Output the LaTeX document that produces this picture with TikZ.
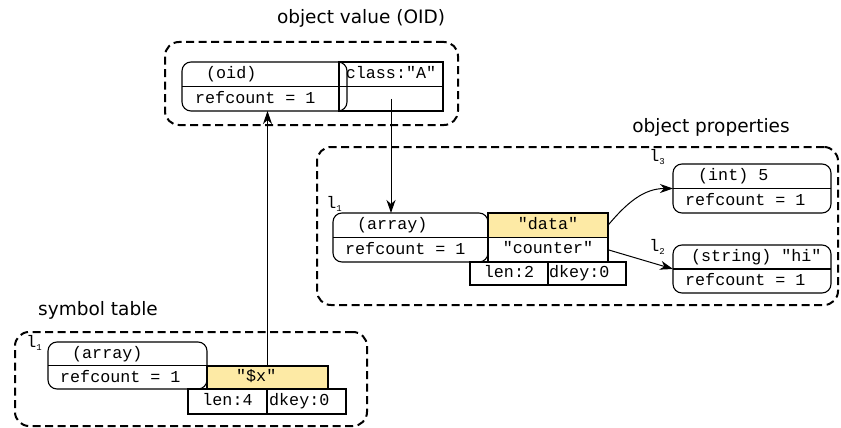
\documentclass[tikz,border=0pt]{standalone}
\usepackage{fontspec}
\usetikzlibrary{arrows.meta}
\newfontfamily\labelfont{DejaVu Sans}
\newfontfamily\codefont{Liberation Mono}
\definecolor{keyyellow}{RGB}{253,234,165}
\newcommand{\lsub}[1]{{\codefont\fontsize{16.7}{18}\selectfont l\raisebox{-3pt}{\fontsize{9}{9}\selectfont #1}}}
\begin{document}
\begin{tikzpicture}[x=1pt,y=-1pt,
  group/.style={draw, line width=2pt, dash pattern=on 8pt off 4.5pt, rounded corners=14pt,
    anchor=north west, inner sep=0pt, outer sep=0pt},
  title/.style={font=\labelfont\fontsize{18.5}{20}\selectfont, inner sep=0pt},
  typebox/.style={draw, line width=1.1pt, rounded corners=9pt, anchor=north west,
    inner sep=0pt, outer sep=0pt},
  cell/.style={draw, line width=1.1pt, anchor=north west, inner sep=0pt, outer sep=0pt,
    font=\codefont\fontsize{16.7}{18}\selectfont, text height=11pt, text depth=3pt},
  code/.style={font=\codefont\fontsize{16.7}{18}\selectfont, inner sep=0pt, anchor=west,
    text height=11pt, text depth=3pt},
  sublabel/.style={inner sep=0pt},
  ptr/.style={line width=1pt, -{Stealth[length=13pt,width=9pt,inset=4pt]}}]
\useasboundingbox (0,0) rectangle (841,428);

% ---------- object value (OID) ----------
\node[title] (tval) at (361,18) {object value (OID)};
\node[group, minimum width=293pt, minimum height=83pt] (gval) at (165,42) {};
\node[typebox, minimum width=165pt, minimum height=49pt] (oid) at (182,62) {};
\draw[line width=1.1pt] (oid.west) -- (oid.east);
\node[code] (oidtype) at (206,74.5) {(oid)};
\node[code] (oidref) at (195,99) {refcount = 1};
\node[cell, minimum width=104pt, minimum height=24.5pt] (cls) at (339,62) {class:"A"};
\node[cell, minimum width=104pt, minimum height=24.5pt] (clsval) at (339,86.5) {};

% ---------- object properties ----------
\node[title] (tprop) at (711,127) {object properties};
\node[group, minimum width=521pt, minimum height=158pt] (gprop) at (317,147) {};
\node[sublabel] (l1p) at (334,204) {\lsub{1}};
\node[typebox, minimum width=155pt, minimum height=49pt] (arr) at (333,213) {};
\draw[line width=1.1pt] (arr.west) -- (arr.east);
\node[code] (arrtype) at (357,225.5) {(array)};
\node[code] (arrref) at (345,250) {refcount = 1};
\node[cell, fill=keyyellow, minimum width=120pt, minimum height=24.5pt] (kdata) at (488,213) {"data"};
\node[cell, minimum width=120pt, minimum height=24.5pt] (kcount) at (488,237.5) {"counter"};
\node[cell, minimum width=78pt, minimum height=23pt] (plen) at (470,262) {len:2};
\node[cell, minimum width=78pt, minimum height=23pt] (pdkey) at (548,262) {};
\node[code] (pdkeyt) at (549,273.5) {dkey:0};

\node[sublabel] (l3) at (657,157) {\lsub{3}};
\node[typebox, minimum width=158pt, minimum height=49pt] (vint) at (673,164) {};
\draw[line width=1.1pt] (vint.west) -- (vint.east);
\node[code] (inttype) at (698,176.5) {(int) 5};
\node[code] (intref) at (685,201) {refcount = 1};

\node[sublabel] (l2) at (657,247) {\lsub{2}};
\node[typebox, minimum width=158pt, minimum height=48pt] (vstr) at (673,245) {};
\draw[line width=1.1pt] (vstr.west) -- (vstr.east);
\node[code] (strtype) at (691,257) {(string) "hi"};
\node[code] (strref) at (685,281) {refcount = 1};

% ---------- symbol table ----------
\node[title] (tsym) at (98,310) {symbol table};
\node[group, minimum width=352pt, minimum height=94pt] (gsym) at (15,332) {};
\node[sublabel] (l1s) at (34,343) {\lsub{1}};
\node[typebox, minimum width=159pt, minimum height=47pt] (sarr) at (48,342) {};
\draw[line width=1.1pt] (sarr.west) -- (sarr.east);
\node[code] (sarrtype) at (72,354) {(array)};
\node[code] (sarrref) at (60,378) {refcount = 1};
\node[cell, fill=keyyellow, minimum width=121pt, minimum height=23pt] (kx) at (207,366) {};
\node[code] (kxt) at (236,377.5) {"\$x"};
\node[cell, minimum width=79pt, minimum height=25pt] (slen) at (188,389) {len:4};
\node[cell, minimum width=79pt, minimum height=25pt] (sdkey) at (267,389) {};
\node[code] (sdkeyt) at (269,401.5) {dkey:0};

% ---------- pointers ----------
\draw[ptr] (kx.north) -- (kx.north |- oid.south);
\draw[ptr] (clsval.center) -- (clsval.center |- arr.north);
\draw[ptr] (kdata.east) to[out=50,in=180] (vint.west);
\draw[ptr] (kcount.east) -- (vstr.west);
\end{tikzpicture}
\end{document}
